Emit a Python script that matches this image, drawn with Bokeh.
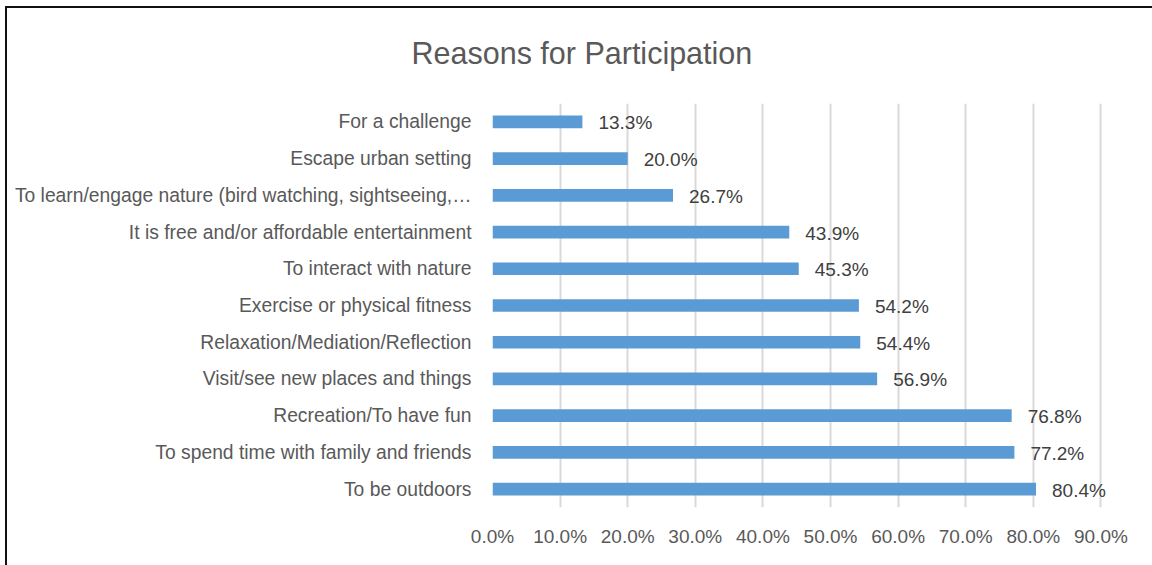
from bokeh.plotting import figure
from bokeh.models import FactorRange, Range1d, FixedTicker, NumeralTickFormatter, ColumnDataSource
from bokeh.layouts import column
from bokeh.embed import file_html
from bokeh.resources import INLINE
from bokeh.core.properties import value

title_text = "Reasons for Participation"
categories = [
    "For a challenge",
    "Escape urban setting",
    "To learn/engage nature (bird watching, sightseeing,\u2026",
    "It is free and/or affordable entertainment",
    "To interact with nature",
    "Exercise or physical fitness",
    "Relaxation/Mediation/Reflection",
    "Visit/see new places and things",
    "Recreation/To have fun",
    "To spend time with family and friends",
    "To be outdoors",
]
values = [13.3, 20.0, 26.7, 43.9, 45.3, 54.2, 54.4, 56.9, 76.8, 77.2, 80.4]
x_ticks = [0.0, 0.1, 0.2, 0.3, 0.4, 0.5, 0.6, 0.7, 0.8, 0.9]

cats_bt = categories[::-1]
vals_bt = values[::-1]
src = ColumnDataSource(dict(
    cat=cats_bt,
    val=[v / 100 for v in vals_bt],
    label=[f"{v:.1f}%" for v in vals_bt],
))

FONT = "Liberation Sans"
W = 1145
TOP_H = 95

# title strip (title lives in this figure's top panel)
t = figure(width=W, height=TOP_H, x_range=Range1d(0, 1), y_range=Range1d(0, 1),
           output_backend="svg", toolbar_location=None,
           x_axis_type=None, y_axis_type=None, min_border=0)
t.outline_line_color = None
t.xgrid.grid_line_color = None
t.ygrid.grid_line_color = None
t.title.text = title_text
t.title.align = "left"
t.title.offset = -81
t.title.text_font = FONT
t.title.text_font_size = "30.5px"
t.title.text_font_style = "normal"
t.title.text_color = "#595959"
t.title.standoff = 51

p = figure(width=W, height=557 - TOP_H,
           y_range=FactorRange(*cats_bt, range_padding=0),
           x_range=Range1d(0, 0.9763),
           output_backend="svg", toolbar_location=None,
           min_border_left=485, min_border_right=0,
           min_border_top=0, min_border_bottom=58)
p.title.visible = False

p.hbar(y="cat", right="val", left=0, height=0.345, source=src,
       fill_color="#5B9BD5", line_color=None)
p.text(x="val", y="cat", text="label", source=src, x_offset=16, y_offset=1,
       text_align="left", text_baseline="middle",
       text_font=value(FONT), text_font_size="19px", text_color="#404040")

p.outline_line_color = None
p.background_fill_color = "white"
p.border_fill_color = "white"

p.xgrid.ticker = FixedTicker(ticks=x_ticks)
p.xgrid.grid_line_color = "#d9d9d9"
p.xgrid.grid_line_width = 2
p.ygrid.grid_line_color = None

p.xaxis.ticker = FixedTicker(ticks=x_ticks)
p.xaxis.formatter = NumeralTickFormatter(format="0.0%")
p.xaxis.axis_line_color = None
p.xaxis.major_tick_line_color = None
p.xaxis.minor_tick_line_color = None
p.xaxis.major_tick_out = 0
p.xaxis.major_tick_in = 0
p.xaxis.major_label_standoff = 18
p.xaxis.major_label_text_font = FONT
p.xaxis.major_label_text_font_size = "19px"
p.xaxis.major_label_text_color = "#595959"

p.yaxis.axis_line_color = None
p.yaxis.major_tick_line_color = None
p.yaxis.major_tick_out = 0
p.yaxis.major_tick_in = 0
p.yaxis.major_label_standoff = 21
p.yaxis.major_label_text_font = FONT
p.yaxis.major_label_text_font_size = "19.3px"
p.yaxis.major_label_text_color = "#595959"

layout = column(t, p, margin=(6, 0, 0, 5), spacing=0,
                styles={"border-left": "2px solid #111", "border-top": "2px solid #111"})

open("out.html", "w").write(file_html(layout, INLINE))
